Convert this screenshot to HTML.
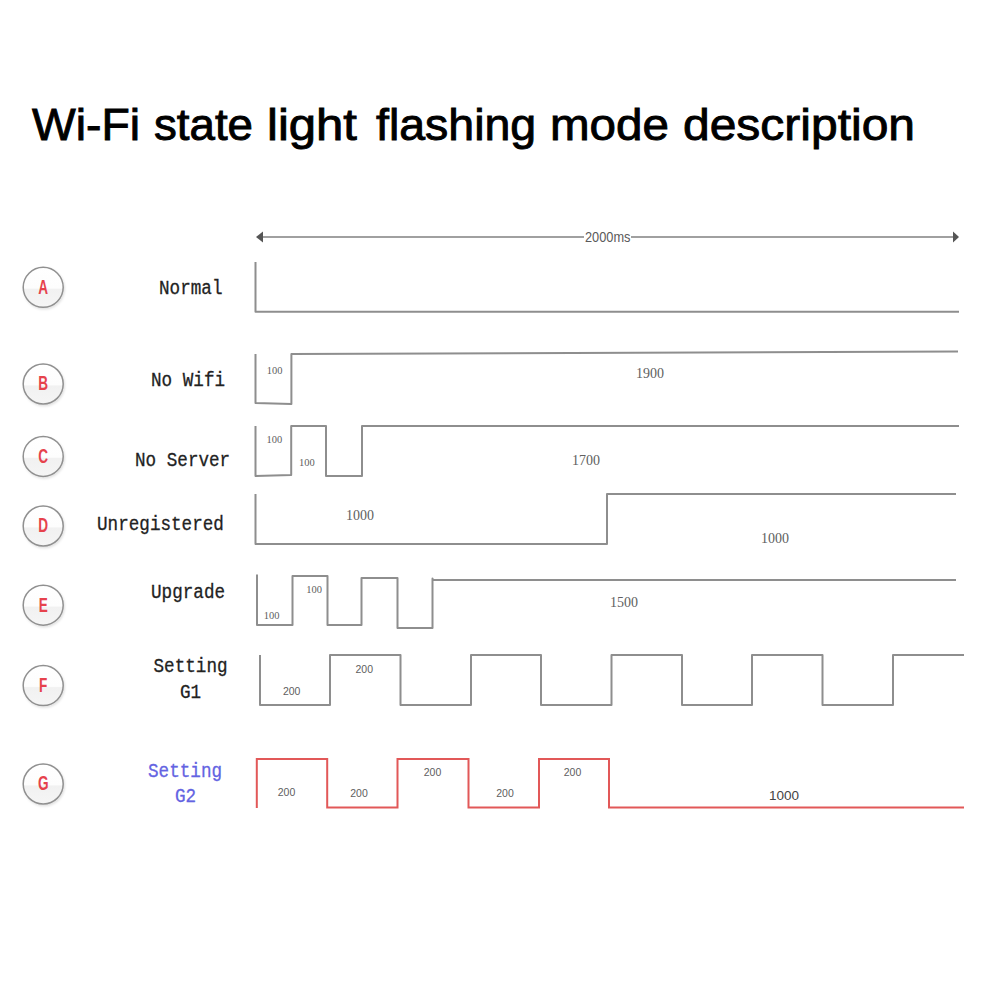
<!DOCTYPE html>
<html><head><meta charset="utf-8">
<style>
html,body{margin:0;padding:0;background:#fff;width:1000px;height:1000px;overflow:hidden}
svg{position:absolute;left:0;top:0}
</style></head>
<body>
<svg width="1000" height="1000" viewBox="0 0 1000 1000">
<defs>
<linearGradient id="cg" x1="0" y1="0" x2="0" y2="1">
<stop offset="0" stop-color="#ffffff"/><stop offset="0.52" stop-color="#fdfdfd"/><stop offset="0.55" stop-color="#f1f1f1"/><stop offset="1" stop-color="#f5f5f5"/>
</linearGradient>
<filter id="sh" x="-30%" y="-30%" width="160%" height="160%"><feDropShadow dx="1" dy="1.5" stdDeviation="1.2" flood-color="#000" flood-opacity="0.12"/></filter>
</defs>
<g id="ttl" font-family="Liberation Sans" font-size="45" fill="#000" stroke="#000" stroke-width="0.9"><text x="32.00" y="140" textLength="108.00" lengthAdjust="spacingAndGlyphs">Wi-Fi</text><text x="154.00" y="140" textLength="99.00" lengthAdjust="spacingAndGlyphs">state</text><text x="267.00" y="140" textLength="90.00" lengthAdjust="spacingAndGlyphs">light</text><text x="376.00" y="140" textLength="160.20" lengthAdjust="spacingAndGlyphs">flashing</text><text x="550.00" y="140" textLength="119.00" lengthAdjust="spacingAndGlyphs">mode</text><text x="683.00" y="140" textLength="232.00" lengthAdjust="spacingAndGlyphs">description</text></g>
<!-- arrow -->
<g>
<line x1="262" y1="237" x2="584" y2="237" stroke="#a0a0a0" stroke-width="2"/>
<line x1="631" y1="237" x2="954" y2="237" stroke="#a0a0a0" stroke-width="2"/>
<path d="M256 237 L263 231.5 L263 242.5 Z" fill="#555"/>
<path d="M959 237 L953 231.5 L953 242.5 Z" fill="#555"/>
<text x="585" y="241.5" textLength="45.5" lengthAdjust="spacingAndGlyphs" font-family="Liberation Sans" font-size="14" fill="#5a5a5a">2000ms</text>
</g>
<!-- circles -->
<g stroke="#909090" stroke-width="1.5" fill="url(#cg)" filter="url(#sh)">
<circle cx="43.2" cy="287.3" r="20"/>
<circle cx="43.2" cy="384" r="20"/>
<circle cx="43.2" cy="456.4" r="20"/>
<circle cx="43.2" cy="526" r="20"/>
<circle cx="43.2" cy="605.2" r="20"/>
<circle cx="43.2" cy="685.6" r="20"/>
<circle cx="43.2" cy="784" r="20"/>
</g>
<g font-family="Liberation Sans" font-size="20" font-weight="bold" fill="#e6424c" text-anchor="middle">
<text x="43.2" y="293.7" transform="translate(43.2 0) scale(0.68 1) translate(-43.2 0)">A</text>
<text x="43.2" y="390.4" transform="translate(43.2 0) scale(0.68 1) translate(-43.2 0)">B</text>
<text x="43.2" y="462.8" transform="translate(43.2 0) scale(0.68 1) translate(-43.2 0)">C</text>
<text x="43.2" y="532.4" transform="translate(43.2 0) scale(0.68 1) translate(-43.2 0)">D</text>
<text x="43.2" y="611.6" transform="translate(43.2 0) scale(0.68 1) translate(-43.2 0)">E</text>
<text x="43.2" y="692.0" transform="translate(43.2 0) scale(0.68 1) translate(-43.2 0)">F</text>
<text x="43.2" y="790.4" transform="translate(43.2 0) scale(0.68 1) translate(-43.2 0)">G</text>
</g>
<!-- row labels -->
<g font-family="Liberation Mono" font-size="21" fill="#222" stroke="#222" stroke-width="0.3">
<text x="0" y="293.8" transform="translate(159 0) scale(0.84 1)">Normal</text>
<text x="0" y="386.5" transform="translate(151 0) scale(0.84 1)">No Wifi</text>
<text x="0" y="466.1" transform="translate(135 0) scale(0.84 1)">No Server</text>
<text x="0" y="530.0" transform="translate(97 0) scale(0.84 1)">Unregistered</text>
<text x="0" y="598.1" transform="translate(151 0) scale(0.84 1)">Upgrade</text>
<text x="0" y="672.3" transform="translate(153.5 0) scale(0.84 1)">Setting</text>
<text x="0" y="698.1" transform="translate(180 0) scale(0.84 1)">G1</text>
<g fill="#6363e2" stroke="#6363e2">
<text x="0" y="776.7" transform="translate(148 0) scale(0.84 1)">Setting</text>
<text x="0" y="801.9" transform="translate(175 0) scale(0.84 1)">G2</text>
</g>
</g>
<!-- waveforms -->
<g fill="none" stroke="#8e8e8e" stroke-width="2" stroke-linejoin="round">
<path d="M255.5 262 V311.8 H959"/>
<path d="M255.5 354 V403 L291.4 404 V354 L958 351.6"/>
<path d="M255.5 426 V476 L291.2 475 V426 H326 V476 H362 V426 H959"/>
<path d="M255.5 494 V544 H607 V494 H956"/>
<path d="M257 574.5 V625 H292.5 V576 H327.5 V625 H361.5 V578 H397.5 V628 H432.5 V578.5 L433 580 H956"/>
<path d="M260 655 V705 H330 V655 H400.5 V705 H471 V655 H541 V705 H611.5 V655 H682 V705 H752 V655 H822.5 V705 H893 V655 H964"/>
</g>
<path d="M256.8 808 V759 H327.2 V807.4 H397.5 V759 H468.5 V807.4 H539 V759 H609 V807.4 H964" fill="none" stroke="#e25858" stroke-width="2"/>
<!-- value labels -->
<g font-family="Liberation Serif" fill="#606060" text-anchor="middle">
<g font-size="10.5">
<text x="274.5" y="373.5">100</text>
<text x="274.3" y="443">100</text>
<text x="306.8" y="465.5">100</text>
<text x="271.5" y="619">100</text>
<text x="314" y="593">100</text>
</g>
<g font-size="10.5" font-family="Liberation Sans">
<text x="291.7" y="694.5">200</text>
<text x="364.3" y="673">200</text>
<text x="286.5" y="795.5">200</text>
<text x="359" y="797">200</text>
<text x="432.5" y="775.5">200</text>
<text x="505" y="797">200</text>
<text x="572.5" y="775.5">200</text>
</g>
<g font-size="14">
<text x="650" y="378">1900</text>
<text x="586" y="465">1700</text>
<text x="360" y="520">1000</text>
<text x="775" y="543">1000</text>
<text x="624" y="607">1500</text>
</g>
<text x="784" y="800" font-size="13.5" font-family="Liberation Sans" fill="#444">1000</text>
</g>
</svg>
</body></html>
